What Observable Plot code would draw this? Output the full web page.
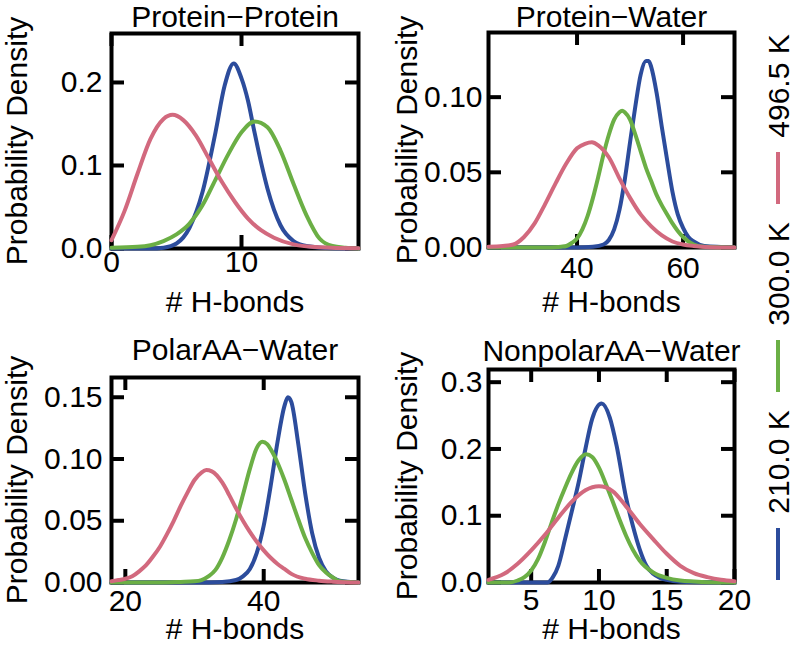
<!DOCTYPE html>
<html><head><meta charset="utf-8">
<script src="https://cdn.jsdelivr.net/npm/d3@7"></script>
<script src="https://cdn.jsdelivr.net/npm/@observablehq/plot@0.6"></script>
<style>
body{margin:0;background:#fff;}
#root{position:relative;width:796px;height:646px;overflow:hidden;background:#fff;font-family:"Liberation Sans",Arial,Helvetica,sans-serif;}
#root svg{position:absolute;overflow:visible;}
</style></head><body><div id="root"></div>
<script>
// ---------- legend / series ----------
const temps = ["210.0 K", "300.0 K", "496.5 K"];
const colors = ["#2C4C9C", "#6BAF45", "#D2697E"];

// ---------- Panel 1: Protein−Protein ----------
const ppX210 = [0, 3, 4, 5, 6, 7, 8, 8.7, 9.4, 10, 10.5, 11, 11.5, 12, 13, 14, 15, 17, 19];
const ppY210 = [0, 0, 0.001, 0.006, 0.025, 0.068, 0.140, 0.196, 0.223, 0.205, 0.178, 0.140, 0.104, 0.072, 0.028, 0.009, 0.003, 0.0003, 0];
const ppX300 = [0, 2, 3, 4, 5, 6, 7, 8, 9, 10, 11, 12, 13, 14, 15, 16, 17, 18, 19];
const ppY300 = [0.001, 0.002, 0.004, 0.009, 0.017, 0.030, 0.052, 0.083, 0.114, 0.140, 0.153, 0.146, 0.118, 0.078, 0.040, 0.012, 0.003, 0.001, 0];
const ppX496 = [0, 1, 2, 3, 4, 4.7, 5.5, 6.5, 7.5, 8.5, 9.5, 10.5, 11.5, 12.5, 14, 16, 19];
const ppY496 = [0.010, 0.045, 0.090, 0.132, 0.156, 0.161, 0.155, 0.136, 0.108, 0.080, 0.056, 0.036, 0.022, 0.013, 0.005, 0.0015, 0.0002];

// ---------- Panel 2: Protein−Water ----------
const pwX210 = [23.3, 40, 43, 45, 46, 47, 48, 49, 50, 51, 52, 53, 53.5, 54, 55, 56, 57, 58, 59, 60, 61, 62, 64, 69.7];
const pwY210 = [0, 0, 0.0005, 0.002, 0.005, 0.012, 0.025, 0.045, 0.070, 0.094, 0.115, 0.124, 0.124, 0.120, 0.103, 0.080, 0.058, 0.037, 0.022, 0.013, 0.007, 0.004, 0.001, 0];
const pwX300 = [23.3, 30, 35, 37, 38, 39, 40, 41, 42, 43, 44, 45, 46, 47, 48, 48.5, 49, 50, 51, 52, 53, 54, 55, 56, 57, 58, 59, 60, 62, 64, 69.7];
const pwY300 = [0, 0, 0, 0.0005, 0.001, 0.003, 0.006, 0.012, 0.021, 0.033, 0.047, 0.062, 0.075, 0.085, 0.090, 0.091, 0.090, 0.085, 0.075, 0.064, 0.053, 0.044, 0.035, 0.028, 0.022, 0.016, 0.011, 0.007, 0.002, 0.0005, 0];
const pwX496 = [23.3, 26, 28, 30, 32, 34, 36, 38, 40, 41.5, 42.8, 44, 46, 48, 50, 52, 54, 56, 58, 60, 62, 65, 69.7];
const pwY496 = [0.0005, 0.001, 0.002, 0.007, 0.016, 0.029, 0.043, 0.056, 0.066, 0.069, 0.070, 0.068, 0.060, 0.046, 0.033, 0.022, 0.014, 0.008, 0.004, 0.002, 0.001, 0.0002, 0];

// ---------- Panel 3: PolarAA−Water ----------
const paX210 = [18, 30, 34, 36, 37, 38, 39, 40, 41, 42, 43, 43.5, 44, 45, 46, 47, 48, 49, 50, 51, 53.7];
const paY210 = [0, 0, 0.0005, 0.002, 0.005, 0.011, 0.024, 0.046, 0.078, 0.114, 0.143, 0.150, 0.146, 0.112, 0.072, 0.040, 0.020, 0.009, 0.004, 0.0015, 0];
const paX300 = [18, 25, 28, 30, 31, 32, 33, 34, 35, 36, 37, 38, 39, 39.8, 40.5, 41, 42, 43, 44, 45, 46, 47, 48, 49, 50, 51, 53.7];
const paY300 = [0, 0, 0.0005, 0.001, 0.002, 0.005, 0.010, 0.020, 0.034, 0.051, 0.071, 0.092, 0.109, 0.114, 0.112, 0.108, 0.097, 0.083, 0.067, 0.051, 0.036, 0.024, 0.014, 0.008, 0.004, 0.001, 0];
const paX496 = [18, 19, 20, 21, 22, 23, 24, 25, 26, 27, 28, 29, 30, 31, 31.7, 32.5, 34, 35, 36, 37, 38, 39, 40, 41, 42, 43, 44, 46, 48, 50, 53.7];
const paY496 = [0.001, 0.002, 0.003, 0.005, 0.009, 0.014, 0.021, 0.029, 0.039, 0.050, 0.062, 0.073, 0.083, 0.089, 0.091, 0.090, 0.081, 0.071, 0.060, 0.050, 0.041, 0.033, 0.026, 0.020, 0.015, 0.011, 0.007, 0.003, 0.0015, 0.0007, 0];

// ---------- Panel 4: NonpolarAA−Water ----------
const naX210 = [1.85, 6.2, 6.6, 7, 7.5, 8, 8.5, 9, 9.5, 10.2, 10.8, 11.3, 12, 12.5, 13, 13.5, 14, 14.5, 15, 16, 17, 20];
const naY210 = [0, 0, 0.008, 0.025, 0.065, 0.107, 0.150, 0.200, 0.245, 0.268, 0.247, 0.205, 0.127, 0.085, 0.050, 0.025, 0.013, 0.007, 0.004, 0.001, 0.0003, 0];
const naX300 = [1.85, 3.4, 4, 4.5, 5, 5.5, 6, 6.5, 7, 7.5, 8, 8.5, 9.05, 9.5, 10, 10.5, 11, 11.5, 12, 12.5, 13, 14, 15, 16, 17, 18, 20];
const naY300 = [0, 0, 0.003, 0.008, 0.018, 0.035, 0.060, 0.089, 0.117, 0.142, 0.165, 0.183, 0.192, 0.188, 0.172, 0.148, 0.122, 0.095, 0.070, 0.049, 0.033, 0.015, 0.007, 0.003, 0.0015, 0.0005, 0];
const naX496 = [1.85, 3, 4, 5, 6, 7, 8, 9, 10, 11, 12, 13, 14, 15, 16, 17, 18, 19, 20];
const naY496 = [0.004, 0.013, 0.028, 0.048, 0.071, 0.097, 0.121, 0.138, 0.144, 0.137, 0.114, 0.088, 0.065, 0.043, 0.025, 0.014, 0.008, 0.004, 0.002];

// ---------- axis ticks ----------
const ppXTicks = [0, 10], ppYTicks = [0, 0.1, 0.2];
const pwXTicks = [40, 60], pwYTicks = [0, 0.05, 0.10];
const paXTicks = [20, 40], paYTicks = [0, 0.05, 0.10, 0.15];
const naXTicks = [5, 10, 15, 20], naYTicks = [0, 0.1, 0.2, 0.3];

const FONT = '"Liberation Sans", Arial, Helvetica, sans-serif';
const root = document.getElementById("root");

function rows(xs, ys, temp) { return xs.map((x, i) => ({x, y: ys[i], temp})); }

function panel(cfg) {
  const innerW = cfg.width - cfg.mL - cfg.mR;
  const innerH = cfg.height - cfg.mT - cfg.mB;
  const T = 13;
  const data = [
    ...rows(cfg.s[0][0], cfg.s[0][1], temps[0]),
    ...rows(cfg.s[1][0], cfg.s[1][1], temps[1]),
    ...rows(cfg.s[2][0], cfg.s[2][1], temps[2])
  ];
  const lbl = {text: d => d, textAnchor: "middle", lineAnchor: "middle"};
  const svg = Plot.plot({
    width: cfg.width, height: cfg.height,
    marginLeft: cfg.mL, marginRight: cfg.mR, marginTop: cfg.mT, marginBottom: cfg.mB,
    x: {domain: cfg.xDomain},
    y: {domain: cfg.yDomain},
    color: {domain: temps, range: colors},
    style: {fontSize: "30px", fontFamily: FONT, background: "transparent", overflow: "visible", color: "black"},
    marks: [
      Plot.frame({stroke: "black", strokeWidth: 4}),
      Plot.tickX(cfg.xTicks, {x: d => d, stroke: "black", strokeWidth: 4, insetTop: innerH - T}),
      Plot.tickX(cfg.xTicks, {x: d => d, stroke: "black", strokeWidth: 4, insetBottom: innerH - T}),
      Plot.tickY(cfg.yTicks, {y: d => d, stroke: "black", strokeWidth: 4, insetRight: innerW - T}),
      Plot.tickY(cfg.yTicks, {y: d => d, stroke: "black", strokeWidth: 4, insetLeft: innerW - T}),
      Plot.line(data, {x: "x", y: "y", stroke: "temp", z: "temp", strokeWidth: 4, curve: "monotone-x"}),
      Plot.axisX(cfg.xTicks, {tickSize: 0, tickPadding: cfg.xPad, label: null, tickFormat: d => String(d)}),
      Plot.axisY(cfg.yTicks, {tickSize: 0, tickPadding: cfg.yPad, label: null, tickFormat: cfg.yFmt}),
      Plot.text([cfg.title], {...lbl, frameAnchor: "top", dy: cfg.titleDy}),
      Plot.text(["# H-bonds"], {...lbl, frameAnchor: "bottom", dy: cfg.xlabDy}),
      Plot.text(["Probability Density"], {...lbl, frameAnchor: "left", dx: cfg.ylabDx, rotate: -90})
    ]
  });
  svg.style.left = cfg.left + "px";
  svg.style.top = cfg.top + "px";
  root.appendChild(svg);
}

panel({title: "Protein\u2212Protein", left: 0, top: 0, width: 398, height: 320,
  mL: 111, mR: 40, mT: 33, mB: 72, xDomain: [0, 19], yDomain: [0, 0.259],
  xTicks: ppXTicks, yTicks: ppYTicks, yFmt: d3.format(".1f"),
  xPad: 2, yPad: 9, titleDy: -16, xlabDy: 54, ylabDx: -94,
  s: [[ppX210, ppY210], [ppX300, ppY300], [ppX496, ppY496]]});

panel({title: "Protein\u2212Water", left: 398, top: 0, width: 340, height: 320,
  mL: 90, mR: 4, mT: 32, mB: 73, xDomain: [23.3, 69.7], yDomain: [0, 0.143],
  xTicks: pwXTicks, yTicks: pwYTicks, yFmt: d3.format(".2f"),
  xPad: 9, yPad: 6, titleDy: -15, xlabDy: 55, ylabDx: -81,
  s: [[pwX210, pwY210], [pwX300, pwY300], [pwX496, pwY496]]});

panel({title: "PolarAA\u2212Water", left: 0, top: 320, width: 398, height: 326,
  mL: 111, mR: 40, mT: 57, mB: 64, xDomain: [18, 53.7], yDomain: [0, 0.166],
  xTicks: paXTicks, yTicks: paYTicks, yFmt: d3.format(".2f"),
  xPad: 7, yPad: 9, titleDy: -27, xlabDy: 47, ylabDx: -94,
  s: [[paX210, paY210], [paX300, paY300], [paX496, paY496]]});

panel({title: "NonpolarAA\u2212Water", left: 398, top: 320, width: 340, height: 326,
  mL: 90, mR: 4, mT: 49, mB: 64, xDomain: [1.85, 20], yDomain: [0, 0.319],
  xTicks: naXTicks, yTicks: naYTicks, yFmt: d3.format(".1f"),
  xPad: 6, yPad: 6, titleDy: -18, xlabDy: 47, ylabDx: -81,
  s: [[naX210, naY210], [naX300, naY300], [naX496, naY496]]});

// ---------- legend (vertical, rotated) ----------
const legendLineY = [[528, 580], [340, 392], [152, 204]];
const legendTextY = [462, 274, 86];
const leg = d3.select(root).append("svg")
  .attr("width", 56).attr("height", 646)
  .style("left", "740px").style("top", "0px");
temps.forEach((t, i) => {
  leg.append("line").attr("x1", 38).attr("x2", 38)
    .attr("y1", legendLineY[i][0]).attr("y2", legendLineY[i][1])
    .attr("stroke", colors[i]).attr("stroke-width", 4);
  leg.append("text").text(t)
    .attr("transform", `translate(38,${legendTextY[i]}) rotate(-90)`)
    .attr("text-anchor", "middle").attr("dy", "0.35em")
    .style("font-family", FONT).style("font-size", "30px").attr("fill", "black");
});
</script></body></html>
